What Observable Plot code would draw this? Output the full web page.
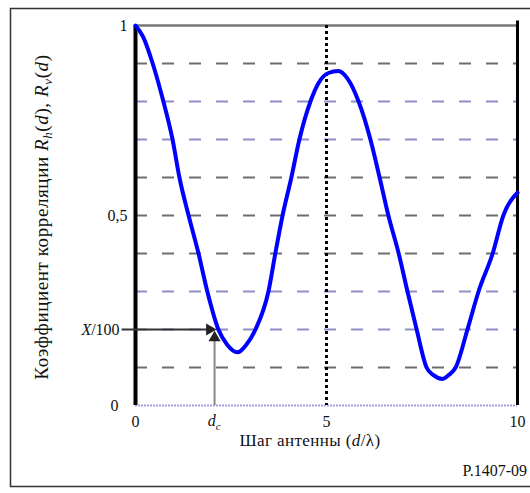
<!DOCTYPE html>
<html>
<head>
<meta charset="utf-8">
<script src="https://cdn.jsdelivr.net/npm/d3@7"></script>
<script src="https://cdn.jsdelivr.net/npm/@observablehq/plot@0.6"></script>
<style>
  html, body { margin: 0; padding: 0; background: #fff; }
  #chart { position: relative; width: 530px; height: 493px; overflow: hidden; }
  svg { font-family: "Liberation Serif", "DejaVu Serif", serif; }
</style>
</head>
<body>
<div id="chart"></div>
<script>
// Correlation coefficient vs. antenna spacing (d/λ)
const spacing = [0, 0.2, 0.45, 0.73, 0.97, 1.15, 1.39, 1.65, 1.88, 2.17, 2.4, 2.67, 2.9, 3.14, 3.48, 3.66, 3.85, 4.08, 4.29, 4.58, 4.8, 5.05, 5.31, 5.55, 5.84, 6.15, 6.39, 6.62, 6.89, 7.12, 7.36, 7.62, 7.8, 8.04, 8.2, 8.38, 8.69, 8.98, 9.35, 9.63, 10];
const correlation = [1, 0.97, 0.9, 0.8, 0.7, 0.6, 0.5, 0.4, 0.3, 0.2, 0.16, 0.14, 0.16, 0.2, 0.3, 0.4, 0.5, 0.6, 0.7, 0.8, 0.85, 0.875, 0.88, 0.86, 0.8, 0.7, 0.6, 0.5, 0.4, 0.3, 0.2, 0.1, 0.08, 0.07, 0.08, 0.1, 0.2, 0.3, 0.4, 0.5, 0.56];

// Horizontal reference levels
const grayLevels = [0.1, 0.4, 0.5, 0.6, 0.9];
const blueLevels = [0.2, 0.3, 0.7, 0.8];

// Axis tick labels
const yTicksUpper = [1, 0.5];
const yTickLabelsUpper = ["1", "0,5"];
const yTickZero = [0];
const yTickLabelZero = ["0"];
const xTicks = [0, 5, 10];
const xTickLabels = ["0", "5", "10"];

// Threshold X/100 and the corresponding spacing d_c
const threshold = 0.2;
const dc = 2.07;
const arrowStartX = -0.35;

const curve = spacing.map((d, i) => ({d, r: correlation[i]}));

const plot = Plot.plot({
  width: 530,
  height: 493,
  marginLeft: 135,
  marginRight: 13,
  marginTop: 25,
  marginBottom: 88,
  x: {domain: [0, 10], axis: null},
  y: {domain: [0, 1], axis: null},
  marks: [
    Plot.ruleY(grayLevels, {stroke: "#6e6e6e", strokeWidth: 2.2, strokeDasharray: "12,15"}),
    Plot.ruleY(blueLevels, {stroke: "#8f8fc8", strokeWidth: 2, strokeDasharray: "12,15"}),
    Plot.ruleY([0], {stroke: "#a0a0dc", strokeWidth: 2, strokeDasharray: "2,1"}),
    Plot.ruleY([1], {stroke: "#777", strokeWidth: 2.5}),
    Plot.ruleX([5], {stroke: "#000", strokeWidth: 3, strokeDasharray: "3,3"}),
    Plot.ruleX([10], {y1: 0, y2: 1.012, stroke: "#000", strokeWidth: 3}),
    Plot.ruleX([0], {stroke: "#000", strokeWidth: 4}),
    // threshold arrows
    Plot.ruleY([threshold], {x1: arrowStartX, x2: dc - 0.1, stroke: "#333", strokeWidth: 1.8}),
    Plot.ruleX([dc], {y1: 0, y2: threshold - 0.01, stroke: "#888", strokeWidth: 2}),
    Plot.dot([{x: dc - 0.13, y: threshold}], {x: "x", y: "y", symbol: "triangle", r: 4.5, fill: "#222", stroke: "none", rotate: 90}),
    Plot.dot([{x: dc, y: threshold - 0.022}], {x: "x", y: "y", symbol: "triangle", r: 4.5, fill: "#222", stroke: "none"}),
    Plot.line(curve, {x: "d", y: "r", stroke: "#0000ff", strokeWidth: 4, curve: "monotone-x"}),
    Plot.text(yTicksUpper, {x: 0, y: d => d, text: (d, i) => yTickLabelsUpper[i], dx: -8, textAnchor: "end", fontSize: 16, fill: "#111"}),
    Plot.text(yTickZero, {x: 0, y: d => d, text: (d, i) => yTickLabelZero[i], dx: -17, textAnchor: "end", fontSize: 16, fill: "#111"}),
    Plot.text(xTicks, {x: d => d, y: 0, text: (d, i) => xTickLabels[i], dy: 16, fontSize: 16, fill: "#111"})
  ]
});

document.getElementById("chart").appendChild(plot);

const svg = d3.select(plot);
const sx = plot.scale("x"), sy = plot.scale("y");
const px = v => sx.apply(v), py = v => sy.apply(v);

// Outer frame
svg.insert("rect", ":first-child")
  .attr("x", 10.5).attr("y", 8.5).attr("width", 540).attr("height", 478)
  .attr("fill", "none").attr("stroke", "#333").attr("stroke-width", 1.5);

// X/100 label
const xl = svg.append("text")
  .attr("x", px(arrowStartX) - 2).attr("y", py(threshold)).attr("dy", "0.35em")
  .attr("text-anchor", "end").attr("font-size", 16).attr("fill", "#111");
xl.append("tspan").attr("font-style", "italic").text("X");
xl.append("tspan").text("/100");

// d_c label
const dl = svg.append("text")
  .attr("x", px(dc)).attr("y", py(0) + 21)
  .attr("text-anchor", "middle").attr("font-size", 16).attr("fill", "#111");
dl.append("tspan").attr("font-style", "italic").text("d");
dl.append("tspan").attr("font-style", "italic").attr("font-size", 11).attr("dy", 4).text("c");

// X axis title
const xt = svg.append("text")
  .attr("x", 310).attr("y", 446)
  .attr("text-anchor", "middle").attr("font-size", 17).attr("letter-spacing", 0.4).attr("fill", "#111");
xt.append("tspan").text("Шаг антенны (");
xt.append("tspan").attr("font-style", "italic").text("d");
xt.append("tspan").text("/λ)");

// Y axis title
const yt = svg.append("text")
  .attr("transform", `translate(48,${py(0.5) + 2}) rotate(-90)`)
  .attr("text-anchor", "middle").attr("font-size", 19).attr("letter-spacing", 0.6).attr("fill", "#111");
yt.append("tspan").text("Коэффициент корреляции ");
yt.append("tspan").attr("font-style", "italic").text("R");
yt.append("tspan").attr("font-style", "italic").attr("font-size", 13).attr("dy", 4).text("h");
yt.append("tspan").attr("dy", -4).text("(");
yt.append("tspan").attr("font-style", "italic").text("d");
yt.append("tspan").text("), ");
yt.append("tspan").attr("font-style", "italic").text("R");
yt.append("tspan").attr("font-style", "italic").attr("font-size", 13).attr("dy", 4).text("v");
yt.append("tspan").attr("dy", -4).text("(");
yt.append("tspan").attr("font-style", "italic").text("d");
yt.append("tspan").text(")");

// Figure reference
svg.append("text")
  .attr("x", 527).attr("y", 476)
  .attr("text-anchor", "end")
  .attr("font-size", 16).attr("fill", "#111").text("P.1407-09");
</script>
</body>
</html>
